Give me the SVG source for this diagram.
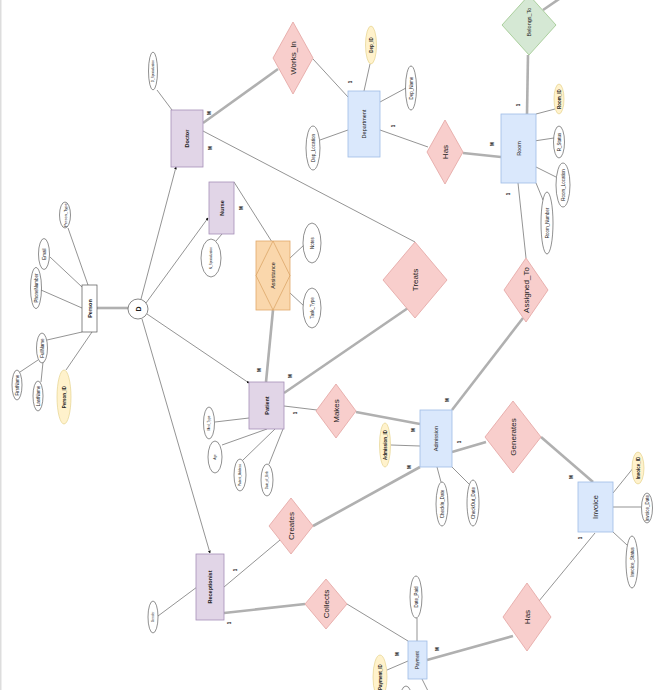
<svg xmlns="http://www.w3.org/2000/svg" width="661" height="690" viewBox="0 0 661 690">
<style>
text{font-family:"Liberation Sans",Arial,sans-serif;fill:#222;text-anchor:middle;dominant-baseline:central}
.pur{fill:#e1d5e7;stroke:#a68fb8;stroke-width:0.8}
.blu{fill:#dae8fc;stroke:#9fbce6;stroke-width:0.8}
.wht{fill:#fff;stroke:#555;stroke-width:0.7}
.rel{fill:#f8cecc;stroke:#e3a3a1;stroke-width:0.8}
.grn{fill:#d5e8d4;stroke:#9cc78c;stroke-width:0.8}
.org{fill:#fad7ac;stroke:#e0a96a;stroke-width:0.8}
.att{fill:#fff;stroke:#444;stroke-width:0.6}
.key{fill:#fff2cc;stroke:#e0cc80;stroke-width:0.6}
.thin{stroke:#666;stroke-width:0.7;fill:none}
.dbl{stroke:#b0b0b0;stroke-width:2.6;fill:none}
.b{font-weight:bold}
.card{font-weight:bold;font-size:4.5px}
.a{font-size:4.5px}
.r{font-size:8px}
.e{font-size:5.5px}
</style>
<defs>
<marker id="dot" viewBox="0 0 6 6" refX="5" refY="3" markerWidth="4" markerHeight="4" orient="auto">
<path d="M0,0 L6,3 L0,6 z" fill="#111"/>
</marker>
</defs>
<rect x="0" y="0" width="1.5" height="690" fill="#ddd"/>

<g id="connectors">
<line class="thin" x1="68" y1="228" x2="88" y2="285"/>
<line class="thin" x1="50" y1="257" x2="82" y2="287"/>
<line class="thin" x1="41" y1="290" x2="82" y2="308"/>
<line class="thin" x1="47" y1="340" x2="82" y2="332"/>
<line class="thin" x1="20" y1="372" x2="38" y2="360"/>
<line class="thin" x1="43" y1="362" x2="41" y2="382"/>
<line class="thin" x1="92" y1="332" x2="66" y2="370"/>
<line class="dbl" x1="97" y1="308" x2="128" y2="308"/>
<line class="thin" x1="141" y1="299" x2="176" y2="167" marker-end="url(#dot)"/>
<line class="thin" x1="146" y1="303" x2="208" y2="218" marker-end="url(#dot)"/>
<line class="thin" x1="147" y1="314" x2="249" y2="383" marker-end="url(#dot)"/>
<line class="thin" x1="142" y1="319" x2="210" y2="553" marker-end="url(#dot)"/>
<line class="thin" x1="157" y1="90" x2="172" y2="110"/>
<line class="dbl" x1="203" y1="123" x2="278" y2="69"/>
<line class="thin" x1="313" y1="59" x2="348" y2="97"/>
<line class="thin" x1="203" y1="131" x2="415" y2="242"/>
<line class="thin" x1="370" y1="64" x2="364" y2="91"/>
<line class="thin" x1="380" y1="102" x2="406" y2="88"/>
<line class="thin" x1="320" y1="140" x2="348" y2="130"/>
<line class="thin" x1="380" y1="130" x2="428" y2="147"/>
<line class="dbl" x1="463" y1="153" x2="501" y2="157"/>
<line class="dbl" x1="528" y1="55" x2="527" y2="114"/>
<line class="dbl" x1="543" y1="10" x2="562" y2="-3"/>
<line class="thin" x1="536" y1="114" x2="555" y2="109"/>
<line class="thin" x1="534" y1="141" x2="554" y2="138"/>
<line class="thin" x1="536" y1="167" x2="556" y2="177"/>
<line class="thin" x1="536" y1="183" x2="543" y2="200"/>
<line class="thin" x1="518" y1="183" x2="526" y2="258"/>
<line class="thin" x1="222" y1="234" x2="216" y2="241"/>
<line class="thin" x1="234" y1="182" x2="272" y2="242"/>
<line class="thin" x1="290" y1="258" x2="304" y2="245"/>
<line class="thin" x1="290" y1="293" x2="304" y2="306"/>
<line class="dbl" x1="273" y1="310" x2="266" y2="382"/>
<line class="thin" x1="215" y1="422" x2="249" y2="418"/>
<line class="thin" x1="222" y1="445" x2="267" y2="429"/>
<line class="thin" x1="243" y1="460" x2="275" y2="429"/>
<line class="thin" x1="269" y1="464" x2="283" y2="429"/>
<line class="dbl" x1="284" y1="393" x2="408" y2="308"/>
<line class="thin" x1="284" y1="406" x2="317" y2="410"/>
<line class="dbl" x1="356" y1="412" x2="420" y2="424"/>
<line class="thin" x1="391" y1="445" x2="420" y2="446"/>
<line class="thin" x1="437" y1="467" x2="441" y2="482"/>
<line class="thin" x1="452" y1="467" x2="469" y2="484"/>
<line class="dbl" x1="452" y1="410" x2="523" y2="318"/>
<line class="dbl" x1="452" y1="452" x2="486" y2="442"/>
<line class="dbl" x1="420" y1="467" x2="313" y2="526"/>
<line class="dbl" x1="541" y1="437" x2="593" y2="482"/>
<line class="thin" x1="613" y1="493" x2="634" y2="467"/>
<line class="thin" x1="613" y1="507" x2="641" y2="507"/>
<line class="thin" x1="613" y1="532" x2="627" y2="545"/>
<line class="thin" x1="595" y1="533" x2="539" y2="601"/>
<line class="thin" x1="158" y1="616" x2="197" y2="587"/>
<line class="thin" x1="224" y1="587" x2="280" y2="540"/>
<line class="dbl" x1="224" y1="613" x2="305" y2="604"/>
<line class="thin" x1="347" y1="604" x2="408" y2="641"/>
<line class="thin" x1="417" y1="618" x2="417" y2="641"/>
<line class="dbl" x1="513" y1="636" x2="427" y2="660"/>
<line class="thin" x1="387" y1="670" x2="408" y2="661"/>
<line class="thin" x1="422" y1="679" x2="428" y2="691"/>
<text class="card" x="209" y="113" transform="rotate(-90 209 113)">M</text>
<text class="card" x="210" y="148" transform="rotate(-90 210 148)">M</text>
<text class="card" x="350" y="82" transform="rotate(-90 350 82)">1</text>
<text class="card" x="393" y="126" transform="rotate(-90 393 126)">1</text>
<text class="card" x="492" y="144" transform="rotate(-90 492 144)">M</text>
<text class="card" x="518" y="105" transform="rotate(-90 518 105)">1</text>
<text class="card" x="508" y="194" transform="rotate(-90 508 194)">1</text>
<text class="card" x="241" y="208" transform="rotate(-90 241 208)">M</text>
<text class="card" x="259" y="370" transform="rotate(-90 259 370)">M</text>
<text class="card" x="290" y="376" transform="rotate(-90 290 376)">M</text>
<text class="card" x="295" y="413" transform="rotate(-90 295 413)">1</text>
<text class="card" x="413" y="430" transform="rotate(-90 413 430)">M</text>
<text class="card" x="447" y="400" transform="rotate(-90 447 400)">M</text>
<text class="card" x="459" y="442" transform="rotate(-90 459 442)">1</text>
<text class="card" x="409" y="467" transform="rotate(-90 409 467)">M</text>
<text class="card" x="571" y="477" transform="rotate(-90 571 477)">M</text>
<text class="card" x="580" y="538" transform="rotate(-90 580 538)">1</text>
<text class="card" x="235" y="570" transform="rotate(-90 235 570)">1</text>
<text class="card" x="229" y="623" transform="rotate(-90 229 623)">1</text>
<text class="card" x="437" y="649" transform="rotate(-90 437 649)">M</text>
<text class="card" x="397" y="654" transform="rotate(-90 397 654)">M</text>
</g>

<g id="person">
<rect class="wht" x="82" y="285" width="15" height="47"/>
<text class="b" font-size="5.5" x="89.5" y="308.5" transform="rotate(-90 89.5 308.5)">Person</text>
</g>
<g id="person_type"><ellipse class="att" cx="65" cy="215" rx="5.5" ry="13"/><text font-size="4" x="65" y="215" transform="rotate(-90 65 215)">Person_Type</text></g>
<g id="email"><ellipse class="att" cx="44" cy="254" rx="5.5" ry="15.5"/><text class="a" x="44" y="254" transform="rotate(-90 44 254)">Email</text></g>
<g id="phone"><ellipse class="att" cx="36" cy="288" rx="5.5" ry="20.5"/><text class="a" x="36" y="288" transform="rotate(-90 36 288)">PhoneNumber</text></g>
<g id="fullname"><ellipse class="att" cx="42" cy="348" rx="5.5" ry="15"/><text class="a" x="42" y="348" transform="rotate(-90 42 348)">FullName</text></g>
<g id="firstname"><ellipse class="att" cx="17" cy="385" rx="5" ry="15"/><text class="a" x="17" y="385" transform="rotate(-90 17 385)">FirstName</text></g>
<g id="lastname"><ellipse class="att" cx="38" cy="396" rx="5" ry="15"/><text class="a" x="38" y="396" transform="rotate(-90 38 396)">LastName</text></g>
<g id="person_id"><ellipse class="key" cx="64" cy="397" rx="7" ry="27"/><text class="a b" x="64" y="397" transform="rotate(-90 64 397)">Person_ID</text></g>

<g id="disjoint">
<circle class="wht" cx="138" cy="309" r="10"/>
<text class="b" font-size="7" x="138" y="309" transform="rotate(-90 138 309)">D</text>
</g>

<g id="doctor">
<rect class="pur" x="171" y="110" width="32" height="57"/>
<text class="b e" x="187" y="138.5" transform="rotate(-90 187 138.5)">Doctor</text>
</g>
<g id="d_spec"><ellipse class="att" cx="153" cy="71" rx="4.5" ry="19"/><text font-size="3" x="153" y="71" transform="rotate(-90 153 71)">D_Specialization</text></g>

<g id="nurse">
<rect class="pur" x="209" y="182" width="25" height="52"/>
<text class="b e" x="221.5" y="208" transform="rotate(-90 221.5 208)">Nurse</text>
</g>
<g id="n_spec"><ellipse class="att" cx="211" cy="258" rx="10" ry="19"/><text font-size="3" x="211" y="258" transform="rotate(-90 211 258)">N_Specialization</text></g>

<g id="assistance">
<rect class="org" x="256" y="241" width="34" height="69"/>
<polygon points="273,241 290,275.5 273,310 256,275.5" fill="none" stroke="#d9a060" stroke-width="0.7"/>
<text class="e" x="273" y="275.5" transform="rotate(-90 273 275.5)">Assistance</text>
</g>
<g id="notes"><ellipse class="att" cx="312" cy="243" rx="9" ry="20"/><text class="a" x="312" y="243" transform="rotate(-90 312 243)">Notes</text></g>
<g id="task_type"><ellipse class="att" cx="312" cy="308" rx="9" ry="20"/><text class="a" x="312" y="308" transform="rotate(-90 312 308)">Task_Type</text></g>

<g id="patient">
<rect class="pur" x="249" y="382" width="35" height="47"/>
<text class="b e" x="266.5" y="405.5" transform="rotate(-90 266.5 405.5)">Patient</text>
</g>
<g id="med_type"><ellipse class="att" cx="209" cy="423" rx="5.5" ry="16"/><text font-size="3.2" x="209" y="423" transform="rotate(-90 209 423)">Med_Type</text></g>
<g id="age"><ellipse class="att" cx="215" cy="457" rx="7" ry="16"/><text font-size="3.2" x="215" y="457" transform="rotate(-90 215 457)">Age</text></g>
<g id="p_addr"><ellipse class="att" cx="240" cy="475" rx="6" ry="16"/><text font-size="3" x="240" y="475" transform="rotate(-90 240 475)">Patient_Address</text></g>
<g id="dob"><ellipse class="att" cx="267" cy="480" rx="6" ry="16"/><text font-size="3" x="267" y="480" transform="rotate(-90 267 480)">Date_of_Birth</text></g>

<g id="receptionist">
<rect class="pur" x="196" y="554" width="28" height="66"/>
<text class="b e" x="210" y="587" transform="rotate(-90 210 587)">Receptionist</text>
</g>
<g id="gender"><ellipse class="att" cx="153" cy="617" rx="5" ry="16"/><text font-size="3.2" x="153" y="617" transform="rotate(-90 153 617)">Gender</text></g>

<g id="works_in">
<polygon class="rel" points="293,22 313,58 293,94 273,58"/>
<text class="r" x="293" y="58" transform="rotate(-90 293 58)">Works_In</text>
</g>
<g id="department">
<rect class="blu" x="348" y="91" width="32" height="66"/>
<text class="e" x="364" y="124" transform="rotate(-90 364 124)">Department</text>
</g>
<g id="dep_id"><ellipse class="key" cx="371" cy="45" rx="5.5" ry="19"/><text class="a b" x="371" y="45" transform="rotate(-90 371 45)">Dep_ID</text></g>
<g id="dep_name"><ellipse class="att" cx="411" cy="88" rx="5.5" ry="22"/><text class="a" x="411" y="88" transform="rotate(-90 411 88)">Dep_Name</text></g>
<g id="dep_loc"><ellipse class="att" cx="313" cy="148" rx="7" ry="22"/><text class="a" x="313" y="148" transform="rotate(-90 313 148)">Dep_Location</text></g>

<g id="has_room">
<polygon class="rel" points="445,120 463,152 445,184 427,152"/>
<text class="r" x="445" y="152" transform="rotate(-90 445 152)">Has</text>
</g>
<g id="belongs_to">
<polygon class="grn" points="529,-5 556,25 529,55 502,25"/>
<text class="e" x="529" y="22" transform="rotate(-90 529 22)">Belongs_To</text>
</g>
<g id="room">
<rect class="blu" x="501" y="114" width="35" height="69"/>
<text class="e" x="518.5" y="148.5" transform="rotate(-90 518.5 148.5)">Room</text>
</g>
<g id="room_id"><ellipse class="key" cx="559" cy="99" rx="5" ry="15"/><text class="a b" x="559" y="99" transform="rotate(-90 559 99)">Room_ID</text></g>
<g id="r_status"><ellipse class="att" cx="559" cy="142" rx="5.5" ry="16"/><text class="a" x="559" y="142" transform="rotate(-90 559 142)">R_Status</text></g>
<g id="room_loc"><ellipse class="att" cx="563" cy="185" rx="7" ry="22"/><text class="a" x="563" y="185" transform="rotate(-90 563 185)">Room_Location</text></g>
<g id="room_num"><ellipse class="att" cx="547" cy="223" rx="6" ry="31"/><text class="a" x="547" y="223" transform="rotate(-90 547 223)">Room_Number</text></g>

<g id="treats">
<polygon class="rel" points="415,242 447,280 415,318 383,280"/>
<text class="r" x="415" y="280" transform="rotate(-90 415 280)">Treats</text>
</g>
<g id="assigned_to">
<polygon class="rel" points="526,258 548,290 526,322 504,290"/>
<text class="r" x="526" y="290" transform="rotate(-90 526 290)">Assigned_To</text>
</g>
<g id="makes">
<polygon class="rel" points="336,384 356,411 336,438 316,411"/>
<text class="r" x="336" y="411" transform="rotate(-90 336 411)">Makes</text>
</g>
<g id="admission">
<rect class="blu" x="420" y="410" width="32" height="57"/>
<text class="e" x="436" y="438.5" transform="rotate(-90 436 438.5)">Admission</text>
</g>
<g id="admission_id"><ellipse class="key" cx="385" cy="445" rx="5.5" ry="22"/><text class="a b" x="385" y="445" transform="rotate(-90 385 445)">Admission_ID</text></g>
<g id="checkin"><ellipse class="att" cx="442" cy="504" rx="6" ry="22"/><text class="a" x="442" y="504" transform="rotate(-90 442 504)">CheckIn_Date</text></g>
<g id="checkout"><ellipse class="att" cx="473" cy="503" rx="6" ry="23"/><text class="a" x="473" y="503" transform="rotate(-90 473 503)">CheckOut_Date</text></g>

<g id="generates">
<polygon class="rel" points="513,401 541,437 513,473 485,437"/>
<text class="r" x="513" y="437" transform="rotate(-90 513 437)">Generates</text>
</g>
<g id="invoice">
<rect class="blu" x="578" y="482" width="35" height="50"/>
<text font-size="7.5" x="595.5" y="507" transform="rotate(-90 595.5 507)">Invoice</text>
</g>
<g id="invoice_id"><ellipse class="key" cx="638" cy="468" rx="6" ry="16"/><text class="a b" x="638" y="468" transform="rotate(-90 638 468)">Invoice_ID</text></g>
<g id="invoice_date"><ellipse class="att" cx="647" cy="508" rx="5.5" ry="15"/><text class="a" x="647" y="508" transform="rotate(-90 647 508)">Invoice_Date</text></g>
<g id="invoice_status"><ellipse class="att" cx="632" cy="562" rx="6" ry="26"/><text class="a" x="632" y="562" transform="rotate(-90 632 562)">Invoice_Status</text></g>

<g id="creates">
<polygon class="rel" points="291,498 313,526 291,554 269,526"/>
<text class="r" x="291" y="526" transform="rotate(-90 291 526)">Creates</text>
</g>
<g id="collects">
<polygon class="rel" points="326,579 347,604 326,629 305,604"/>
<text class="r" x="326" y="604" transform="rotate(-90 326 604)">Collects</text>
</g>
<g id="has_payment">
<polygon class="rel" points="527,583 551,617 527,651 503,617"/>
<text class="r" x="527" y="617" transform="rotate(-90 527 617)">Has</text>
</g>
<g id="payment">
<rect class="blu" x="408" y="641" width="19" height="38"/>
<text font-size="4.5" x="417.5" y="660" transform="rotate(-90 417.5 660)">Payment</text>
</g>
<g id="date_paid"><ellipse class="att" cx="416" cy="597" rx="6" ry="21"/><text class="a" x="416" y="597" transform="rotate(-90 416 597)">Date_Paid</text></g>
<g id="payment_id"><ellipse class="key" cx="380" cy="677" rx="7" ry="22"/><text class="a b" x="380" y="677" transform="rotate(-90 380 677)">Payment_ID</text></g>
<g id="payment_attr"><ellipse class="att" cx="406" cy="700" rx="6" ry="14"/></g>
</svg>
